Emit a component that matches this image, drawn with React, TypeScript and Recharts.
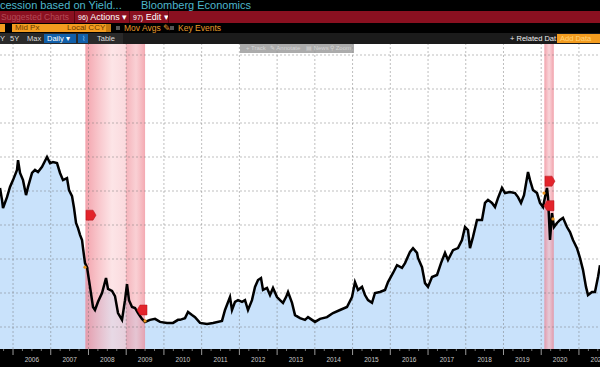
import { Area, ComposedChart, Line, ReferenceArea, ReferenceDot, ReferenceLine, XAxis, YAxis } from "recharts";

const dates = [
  2005.655, 2005.708, 2005.735, 2005.841, 2005.92, 2006.0, 2006.106, 2006.133, 2006.186, 2006.265,
  2006.345, 2006.398, 2006.504, 2006.583, 2006.663, 2006.769, 2006.901, 2006.981, 2007.06, 2007.166,
  2007.246, 2007.325, 2007.431, 2007.484, 2007.564, 2007.617, 2007.67, 2007.723, 2007.776, 2007.829,
  2007.855, 2007.908, 2007.961, 2008.041, 2008.12, 2008.173, 2008.253, 2008.359, 2008.465, 2008.518,
  2008.624, 2008.703, 2008.783, 2008.889, 2008.968, 2009.021, 2009.074, 2009.154, 2009.234, 2009.313,
  2009.419, 2009.499, 2009.631, 2009.764, 2009.896, 2010.082, 2010.241, 2010.373, 2010.426, 2010.559,
  2010.638, 2010.744, 2010.824, 2010.956, 2011.142, 2011.301, 2011.539, 2011.619, 2011.751, 2011.804,
  2011.884, 2011.963, 2012.069, 2012.149, 2012.228, 2012.334, 2012.414, 2012.494, 2012.573, 2012.626,
  2012.732, 2012.812, 2012.891, 2012.997, 2013.077, 2013.156, 2013.236, 2013.289, 2013.395, 2013.474,
  2013.607, 2013.739, 2013.819, 2013.925, 2014.004, 2014.137, 2014.322, 2014.481, 2014.667, 2014.852,
  2014.985, 2015.064, 2015.144, 2015.25, 2015.329, 2015.409, 2015.515, 2015.594, 2015.727, 2015.86,
  2015.939, 2016.072, 2016.178, 2016.31, 2016.39, 2016.522, 2016.602, 2016.708, 2016.734, 2016.84,
  2016.92, 2016.999, 2017.105, 2017.238, 2017.344, 2017.45, 2017.529, 2017.662, 2017.794, 2017.9,
  2017.98, 2018.059, 2018.112, 2018.192, 2018.298, 2018.43, 2018.51, 2018.589, 2018.695, 2018.775,
  2018.854, 2018.96, 2019.04, 2019.173, 2019.305, 2019.385, 2019.464, 2019.544, 2019.65, 2019.703,
  2019.782, 2019.888, 2019.968, 2020.047, 2020.1, 2020.153, 2020.18, 2020.233, 2020.286, 2020.339,
  2020.418, 2020.498, 2020.577, 2020.683, 2020.763, 2020.842, 2020.948, 2021.028, 2021.107, 2021.187,
  2021.24, 2021.346, 2021.425, 2021.505, 2021.558,
];

const values = [
  4.09, 3.74, 3.5, 3.82, 4.12, 4.32, 4.62, 4.91, 4.53, 4.32,
  3.88, 4.12, 4.53, 4.62, 4.56, 4.71, 5.0, 4.82, 4.85, 4.82,
  4.53, 4.32, 4.38, 4.03, 3.85, 3.5, 3.06, 2.91, 2.71, 2.56,
  2.32, 1.88, 1.76, 1.18, 0.59, 0.5, 0.74, 1.0, 1.44, 1.12,
  1.06, 0.91, 0.41, 0.21, 0.79, 1.26, 0.79, 0.59, 0.56, 0.41,
  0.24, 0.15, 0.21, 0.24, 0.15, 0.12, 0.12, 0.21, 0.21, 0.26,
  0.44, 0.35, 0.29, 0.12, 0.09, 0.12, 0.18, 0.5, 0.88, 0.5,
  0.74, 0.79, 0.74, 0.79, 0.5, 0.79, 1.18, 1.38, 1.44, 1.09,
  1.15, 0.94, 1.15, 0.88, 0.79, 0.71, 0.88, 1.03, 0.71, 0.35,
  0.26, 0.21, 0.29, 0.21, 0.15, 0.24, 0.29, 0.41, 0.5, 0.59,
  0.88, 1.32, 1.09, 1.18, 0.94, 0.79, 0.71, 1.0, 1.03, 1.09,
  1.32, 1.59, 1.82, 1.74, 1.88, 2.21, 2.32, 2.18, 2.03, 1.76,
  1.29, 1.18, 1.47, 1.53, 1.88, 2.18, 1.97, 2.26, 2.32, 2.56,
  2.94, 2.85, 2.32, 2.65, 3.15, 3.15, 3.65, 3.74, 3.65, 3.53,
  3.79, 4.09, 3.94, 3.97, 3.94, 3.82, 3.65, 3.88, 4.56, 4.32,
  4.03, 3.94, 3.65, 3.53, 3.82, 4.09, 3.82, 2.56, 3.35, 2.94,
  3.06, 3.15, 3.21, 2.94, 2.79, 2.56, 2.32, 2.03, 1.68, 1.18,
  0.94, 1.03, 1.03, 1.47, 1.82,
];

const yearLabels = [2005, 2006, 2007, 2008, 2009, 2010, 2011, 2012, 2013, 2014, 2015, 2016, 2017, 2018, 2019, 2020, 2021];
const gridYears = yearLabels.slice(1);
const gridLevels = [0, 1, 2, 3, 4, 5, 6, 7, 8];

const recessions = [
  { id: "rec1", start: 2007.917, end: 2009.5 },
  { id: "rec2", start: 2020.083, end: 2020.333 },
];

// key-event flags (base side of the flag) and small orange markers on the line
const flags = [
  { t: 2007.935, v: 3.29, dir: 1 },
  { t: 2009.552, v: 0.5, dir: -1 },
  { t: 2020.1, v: 4.29, dir: 1 },
  { t: 2020.339, v: 3.57, dir: -1 },
];
const eventDots = [
  { t: 2007.908, v: 1.76 },
  { t: 2009.499, v: 0.18 },
  { t: 2020.074, v: 3.94 },
  { t: 2020.312, v: 3.18 },
];

const X_MIN = 2005.655;
const X_MAX = 2021.558;
const Y_MIN = -0.647;
const Y_MAX = 8.324;

const data = dates.map((t, i) => ({ t, v: values[i] }));
const quarterTicks = yearLabels.flatMap((y) => [y, y + 0.25, y + 0.5, y + 0.75]).filter((q) => q > X_MIN && q < X_MAX);

const font = '"Liberation Sans", Arial, sans-serif';

function YearTick(props: any) {
  const { x, y, payload } = props;
  const val = payload.value as number;
  const q = Math.round((val - Math.floor(val)) * 4);
  if (q === 0) return <line x1={x} x2={x} y1={y} y2={y + 6} stroke="#9a9a9a" strokeWidth={1} />;
  return (
    <g>
      <line x1={x} x2={x} y1={y} y2={y + 2} stroke="#777" strokeWidth={1} />
      {q === 2 && (
        <text x={x} y={y + 13} textAnchor="middle" fill="#c9c9c9" fontSize={6.5} fontFamily={font}>
          {Math.floor(val)}
        </text>
      )}
    </g>
  );
}

function Flag(props: any) {
  const { cx, cy, dir } = props;
  const d = `M${cx},${cy - 5} L${cx + dir * 7},${cy - 5} L${cx + dir * 10},${cy} L${cx + dir * 7},${cy + 5} L${cx},${cy + 5} Z`;
  return <path d={d} fill="#e3242b" stroke="#b0141a" strokeWidth={0.5} />;
}

const box = (extra: React.CSSProperties): React.CSSProperties => ({
  position: "absolute",
  fontFamily: font,
  whiteSpace: "nowrap",
  ...extra,
});

export default function App() {
  return (
    <div style={{ position: "fixed", left: 0, top: 0, width: 600, height: 367, overflow: "hidden", background: "#000" }}>
      {/* title row */}
      <div style={box({ left: 0, top: 0, width: 600, height: 11, background: "#000" })}>
        <span style={box({ left: 0, top: -1, fontSize: 11, color: "#4db6cb" })}>cession based on Yield...</span>
        <span style={box({ left: 141, top: -1, fontSize: 11, color: "#4db6cb" })}>Bloomberg Economics</span>
      </div>
      {/* red menu row */}
      <div style={box({ left: 0, top: 11, width: 600, height: 12, background: "#8a1020" })}>
        <span style={box({ left: 1, top: 1, fontSize: 8.5, color: "#b54a57" })}>Suggested Charts</span>
        <div style={box({ left: 74, top: 0, width: 1, height: 12, background: "#5a0610" })} />
        <span style={box({ left: 78, top: 1, fontSize: 9, color: "#fff" })}>
          <span style={{ fontSize: 7 }}>96)</span> Actions ▾
        </span>
        <div style={box({ left: 129, top: 0, width: 1, height: 12, background: "#5a0610" })} />
        <span style={box({ left: 133, top: 1, fontSize: 9, color: "#fff" })}>
          <span style={{ fontSize: 7 }}>97)</span> Edit ▾
        </span>
        <div style={box({ left: 168, top: 0, width: 1, height: 12, background: "#5a0610" })} />
      </div>
      {/* orange option row */}
      <div style={box({ left: 0, top: 23, width: 600, height: 10, background: "#000" })}>
        <div style={box({ left: 0, top: 1, width: 5, height: 8, background: "#f39c1f" })} />
        <div style={box({ left: 12, top: 1, width: 49, height: 8, background: "#f39c1f", fontSize: 8, lineHeight: "8px", color: "#6b3a00", paddingLeft: 3 })}>Mid Px</div>
        <div style={box({ left: 64, top: 1, width: 41, height: 8, background: "#f39c1f", fontSize: 8, lineHeight: "8px", color: "#6b3a00", paddingLeft: 3 })}>Local CCY</div>
        <div style={box({ left: 106, top: 1, width: 5, height: 8, background: "#c77a10" })} />
        <div style={box({ left: 116, top: 3, width: 4, height: 4, background: "#555" })} />
        <span style={box({ left: 124, top: 0, fontSize: 8.5, color: "#e8992a" })}>Mov Avgs ✎</span>
        <div style={box({ left: 170, top: 3, width: 4, height: 4, background: "#555" })} />
        <span style={box({ left: 178, top: 0, fontSize: 8.5, color: "#e8992a" })}>Key Events</span>
      </div>
      {/* range row */}
      <div style={box({ left: 0, top: 33, width: 600, height: 11, background: "#1b1b1b" })}>
        <div style={box({ left: 0, top: 0, width: 123, height: 11, background: "#2a2a2a" })} />
        <span style={box({ left: 0, top: 1, fontSize: 7.5, color: "#ddd" })}>Y</span>
        <span style={box({ left: 10, top: 1, fontSize: 7.5, color: "#ddd" })}>5Y</span>
        <span style={box({ left: 27, top: 1, fontSize: 7.5, color: "#ddd" })}>Max</span>
        <div style={box({ left: 44, top: 1, width: 29, height: 9, background: "#115fa9", fontSize: 7.5, lineHeight: "9px", color: "#fff", paddingLeft: 3 })}>Daily ▾</div>
        <div style={box({ left: 78, top: 1, width: 10, height: 9, background: "#115fa9", fontSize: 7, lineHeight: "9px", color: "#8fc3f2", textAlign: "center" })}>⌇</div>
        <span style={box({ left: 97, top: 1, fontSize: 7.5, color: "#ddd" })}>Table</span>
        <span style={box({ left: 510, top: 1, fontSize: 7.5, color: "#eee" })}>+ Related Dat</span>
        <div style={box({ left: 557, top: 1, width: 43, height: 9, background: "#f39c1f", fontSize: 7.5, lineHeight: "9px", color: "#ffd27a", paddingLeft: 3 })}>Add Data</div>
      </div>
      {/* plot + axis band */}
      <div style={box({ left: 0, top: 44, width: 600, height: 305, background: "#fff" })} />
      <div style={box({ left: 0, top: 349, width: 600, height: 18, background: "#000" })} />
      <div style={box({ left: 0, top: 44, width: 600, height: 323 })}>
        <ComposedChart width={600} height={323} data={data} margin={{ top: 0, right: 0, bottom: 0, left: 0 }}>
          <defs>
            <linearGradient id="rec1" x1="0" y1="0" x2="1" y2="0">
              <stop offset="0" stopColor="#ef7f8c" stopOpacity={0.72} />
              <stop offset="0.45" stopColor="#fbd3d7" stopOpacity={0.6} />
              <stop offset="0.68" stopColor="#f8c2c8" stopOpacity={0.62} />
              <stop offset="0.69" stopColor="#f08f9a" stopOpacity={0.66} />
              <stop offset="0.85" stopColor="#f6b3ba" stopOpacity={0.62} />
              <stop offset="1" stopColor="#ef8591" stopOpacity={0.7} />
            </linearGradient>
            <linearGradient id="rec2" x1="0" y1="0" x2="1" y2="0">
              <stop offset="0" stopColor="#ec7d8b" stopOpacity={0.72} />
              <stop offset="0.5" stopColor="#f6bcc3" stopOpacity={0.65} />
              <stop offset="1" stopColor="#ec7d8b" stopOpacity={0.72} />
            </linearGradient>
          </defs>
          <XAxis
            dataKey="t"
            type="number"
            domain={[X_MIN, X_MAX]}
            allowDataOverflow
            ticks={quarterTicks}
            interval={0}
            height={18}
            tickSize={0}
            tickMargin={0}
            axisLine={false}
            tickLine={false}
            tick={(p: any) => <YearTick {...p} />}
          />
          <YAxis type="number" domain={[Y_MIN, Y_MAX]} allowDataOverflow hide />
          <Area
            type="linear"
            dataKey="v"
            stroke="none"
            fill="#c9e2fb"
            fillOpacity={1}
            baseValue={Y_MIN}
            isAnimationActive={false}
            dot={false}
            activeDot={false}
            zIndex={100}
          />
          {recessions.map((r) => (
            <ReferenceArea key={r.id} x1={r.start} x2={r.end} y1={Y_MIN} y2={Y_MAX} fill={`url(#${r.id})`} fillOpacity={1} stroke="none" ifOverflow="hidden" zIndex={150} />
          ))}
          {gridYears.map((y) => (
            <ReferenceLine key={`gx${y}`} x={y} stroke="rgba(110,110,110,0.45)" strokeDasharray="2 2" strokeWidth={1} zIndex={160} />
          ))}
          {gridLevels.map((g) => (
            <ReferenceLine key={`gy${g}`} y={g} stroke="rgba(110,110,110,0.45)" strokeDasharray="2 2" strokeWidth={1} zIndex={160} />
          ))}
          <Line
            type="linear"
            dataKey="v"
            stroke="#000"
            strokeWidth={2.5}
            dot={false}
            activeDot={false}
            isAnimationActive={false}
            zIndex={400}
          />
          {eventDots.map((e, i) => (
            <ReferenceDot key={`ed${i}`} x={e.t} y={e.v} r={1.6} fill="#e8921c" stroke="none" zIndex={500} />
          ))}
          {flags.map((f, i) => (
            <ReferenceDot key={`fl${i}`} x={f.t} y={f.v} r={5} shape={(p: any) => <Flag {...p} dir={f.dir} />} zIndex={600} />
          ))}
        </ComposedChart>
      </div>
      {/* floating chart toolbar */}
      <div style={box({ left: 240, top: 44, width: 114, height: 9, background: "rgba(150,150,150,0.8)", fontSize: 6, lineHeight: "9px", color: "#d6d6d6" })}>
        <span style={box({ left: 6, top: 0 })}>+ Track</span>
        <span style={box({ left: 30, top: 0 })}>✎ Annotate</span>
        <span style={box({ left: 66, top: 0 })}>▤ News</span>
        <span style={box({ left: 90, top: 0 })}>⚲ Zoom</span>
      </div>
    </div>
  );
}
